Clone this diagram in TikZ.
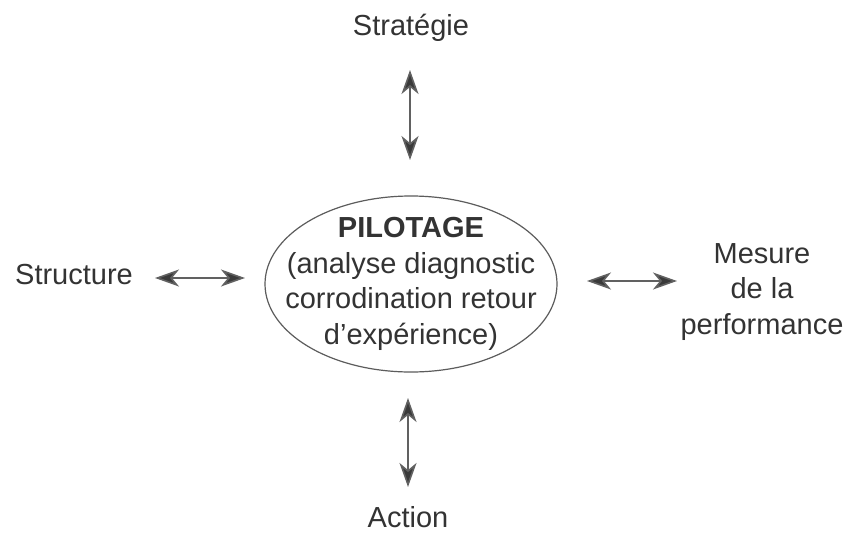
\documentclass[tikz,border=0pt]{standalone}
\usepackage{fontspec}
\setmainfont{Liberation Sans}
\usetikzlibrary{arrows.meta,shapes.geometric}
\definecolor{ink}{HTML}{333333}
\definecolor{arrowc}{HTML}{3A3A3A}
\tikzset{
  biarr/.style={draw=arrowc!80, line width=1.6pt, {Stealth[length=24pt,width=17pt,inset=7pt,fill=arrowc]}-{Stealth[length=24pt,width=17pt,inset=7pt,fill=arrowc]}},
  lbl/.style={font=\fontsize{29}{35.5}\selectfont, text=ink, inner sep=0pt, align=center},
  oval/.style={draw=ink!80, line width=1.2pt, ellipse, minimum width=292pt, minimum height=176pt, inner sep=0pt}
}
\begin{document}
\begin{tikzpicture}[x=1pt,y=-1pt]
\useasboundingbox[fill=white] (0,0) rectangle (849,533);
% central ellipse
\node[oval] (pil) at (411,284) {};
\node[lbl] (piltext) at (411,284) {\textbf{PILOTAGE}\\(analyse diagnostic\\corrodination retour\\d'expérience)};
% outer labels
\node[lbl, anchor=base] (strat) at (411,35) {Stratégie};
\node[lbl, anchor=base] (struct) at (74,284) {Structure};
\node[lbl, anchor=base] (action) at (408,527) {Action};
\node[lbl, anchor=base] (mesure) at (762,334) {Mesure\\de la\\performance};
% arrow ends
\coordinate (t1) at (410,70);
\coordinate (t2) at (410,160);
\coordinate (b1) at (408,398);
\coordinate (b2) at (408,487);
\coordinate (l1) at (155,278);
\coordinate (l2) at (245,278);
\coordinate (r1) at (587,281);
\coordinate (r2) at (677,281);
\draw[biarr] (t1) -- (t2);
\draw[biarr] (b1) -- (b2);
\draw[biarr] (l1) -- (l2);
\draw[biarr] (r1) -- (r2);
\end{tikzpicture}
\end{document}
